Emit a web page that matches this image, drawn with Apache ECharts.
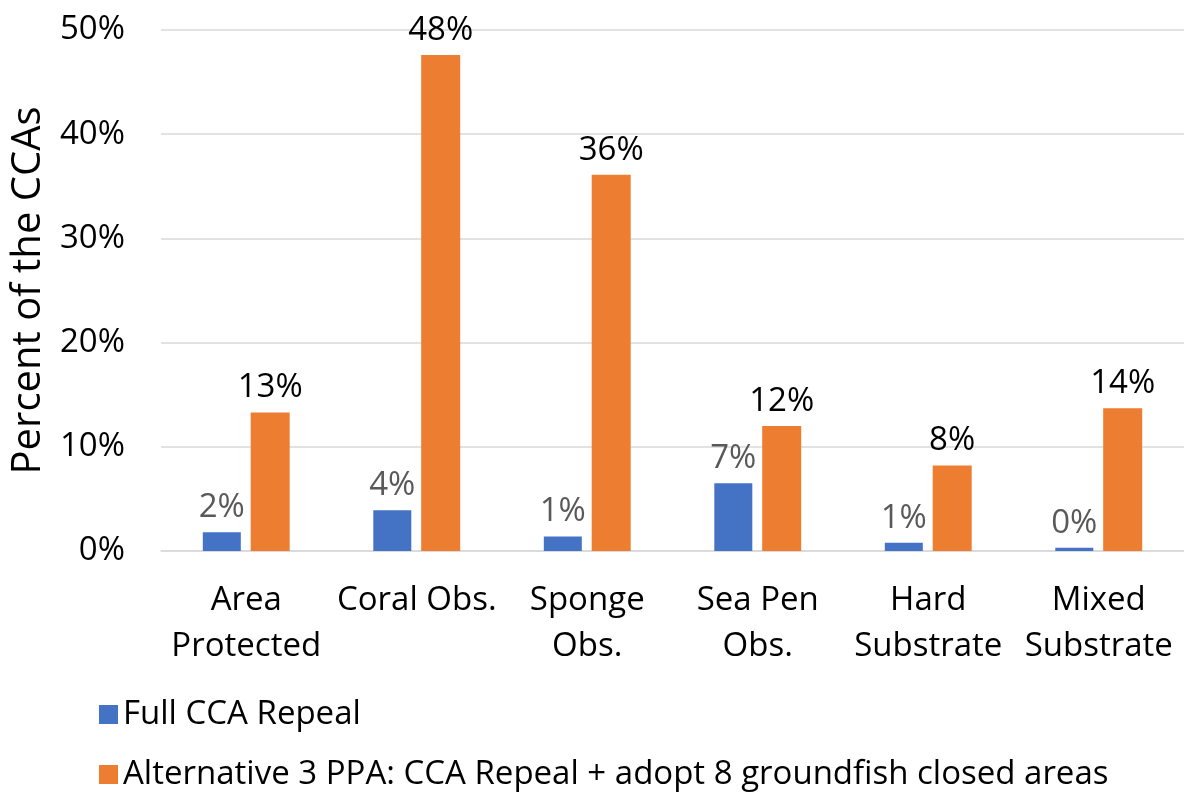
<!DOCTYPE html>
<html><head><meta charset="utf-8">
<script src="https://cdn.jsdelivr.net/npm/echarts@6/dist/echarts.min.js"></script>
<style>html,body{margin:0;padding:0;background:#fff}#c{width:1184px;height:796px}</style>
</head><body><div id="c"></div>
<script>
const categories = ['Area\nProtected', 'Coral Obs.', 'Sponge\nObs.', 'Sea Pen\nObs.', 'Hard\nSubstrate', 'Mixed\nSubstrate'];
const fullRepeal = [1.8, 3.9, 1.4, 6.5, 0.8, 0.3];
const alt3 = [13.3, 47.6, 36.1, 12.0, 8.2, 13.7];
const seriesNames = ['Full CCA Repeal', 'Alternative 3 PPA: CCA Repeal + adopt 8 groundfish closed areas'];
const yTicks = {min: 0, max: 50, interval: 10};

const FONT = '"Open Sans", Lato, sans-serif';
const chart = echarts.init(document.getElementById('c'), null, {renderer: 'canvas'});
chart.setOption({
  animation: false,
  textStyle: {fontFamily: FONT},
  grid: {left: 161, right: 0, top: 30, bottom: 245, containLabel: false},
  legend: {
    orient: 'vertical', left: 94, top: 693, itemGap: 27,
    itemWidth: 19, itemHeight: 19, icon: 'rect', itemTextGap: 10,
    textStyle: {fontFamily: FONT, fontSize: 33, color: '#000'},
    data: seriesNames
  },
  xAxis: {
    type: 'category', data: categories,
    axisLine: {lineStyle: {color: '#d9d9d9', width: 1.5}},
    axisTick: {show: false},
    axisLabel: {fontFamily: FONT, fontSize: 33, color: '#000', lineHeight: 46, margin: 27, interval: 0}
  },
  yAxis: {
    type: 'value', min: yTicks.min, max: yTicks.max, interval: yTicks.interval,
    name: 'Percent of the CCAs', nameLocation: 'middle', nameGap: 111,
    nameTextStyle: {fontFamily: FONT, fontSize: 40, color: '#000'},
    axisLabel: {fontFamily: FONT, fontSize: 33, color: '#000', margin: 36, formatter: v => v + '%'},
    splitLine: {lineStyle: {color: '#d9d9d9', width: 1.5}},
    axisLine: {show: false}, axisTick: {show: false}
  },
  series: [
    {
      name: seriesNames[0], type: 'bar', data: fullRepeal,
      barWidth: 38, barGap: '26%',
      itemStyle: {color: '#4472c4'},
      label: {show: true, position: 'top', distance: 8, fontFamily: FONT, fontSize: 33, color: '#595959',
        formatter: p => Math.round(p.value) + '%'}
    },
    {
      name: seriesNames[1], type: 'bar', data: alt3,
      barWidth: 39,
      itemStyle: {color: '#ed7d31'},
      label: {show: true, position: 'top', distance: 8, fontFamily: FONT, fontSize: 33, color: '#000',
        formatter: p => Math.round(p.value) + '%'}
    }
  ]
});
</script></body></html>
